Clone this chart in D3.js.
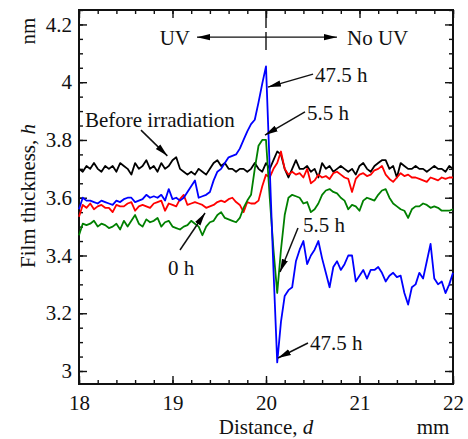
<html>
<head>
<title>Film thickness</title>
<script src="https://d3js.org/d3.v7.min.js"></script>
<style>
  body { margin: 0; background: #fff; }
  text { font-family: "Liberation Serif", "Times New Roman", serif; font-size: 21px; fill: #111; }
</style>
</head>
<body>
<div id="chart"></div>
<script type="text/javascript">
// sampling positions along the film (mm), 0.04 mm apart
var distance = d3.range(101).map(function(i) { return +(18 + i * 0.04).toFixed(2); });

// thickness readings (nm)
var beforeIrr = [3.70,3.69,3.71,3.70,3.72,3.70,3.69,3.71,3.70,3.71,
  3.69,3.72,3.71,3.70,3.68,3.72,3.70,3.71,3.73,3.70,
  3.71,3.69,3.72,3.70,3.71,3.73,3.74,3.70,3.69,3.68,
  3.69,3.68,3.70,3.69,3.68,3.70,3.72,3.73,3.71,3.72,
  3.70,3.70,3.69,3.70,3.70,3.69,3.70,3.72,3.70,3.69,
  3.72,3.70,3.73,3.76,3.75,3.70,3.67,3.70,3.73,3.70,
  3.70,3.71,3.69,3.70,3.67,3.72,3.70,3.71,3.69,3.70,
  3.71,3.70,3.69,3.70,3.68,3.71,3.72,3.70,3.69,3.71,
  3.72,3.73,3.73,3.70,3.71,3.67,3.72,3.71,3.70,3.70,
  3.71,3.70,3.70,3.69,3.70,3.71,3.70,3.70,3.69,3.71,3.70];

var h0 = [3.534,3.575,3.565,3.58,3.56,3.57,3.575,3.565,3.565,3.55,
  3.575,3.57,3.57,3.58,3.585,3.555,3.57,3.575,3.57,3.565,
  3.58,3.585,3.59,3.555,3.58,3.575,3.57,3.595,3.61,3.575,
  3.58,3.585,3.58,3.575,3.565,3.57,3.575,3.585,3.59,3.585,
  3.595,3.60,3.585,3.575,3.55,3.585,3.58,3.58,3.59,3.64,
  3.68,3.67,3.70,3.72,3.76,3.70,3.68,3.69,3.68,3.685,
  3.67,3.70,3.65,3.66,3.68,3.67,3.675,3.665,3.685,3.69,
  3.68,3.67,3.665,3.62,3.665,3.68,3.685,3.675,3.68,3.695,
  3.70,3.71,3.68,3.665,3.655,3.67,3.685,3.675,3.68,3.67,
  3.67,3.665,3.66,3.655,3.67,3.665,3.66,3.67,3.665,3.67,3.67];

var h55 = [3.47,3.51,3.505,3.51,3.52,3.50,3.51,3.505,3.495,3.50,
  3.51,3.49,3.52,3.50,3.52,3.54,3.51,3.50,3.525,3.515,
  3.52,3.53,3.50,3.515,3.52,3.50,3.495,3.49,3.50,3.505,
  3.52,3.51,3.50,3.47,3.50,3.515,3.52,3.54,3.55,3.53,
  3.525,3.52,3.515,3.53,3.565,3.59,3.61,3.70,3.78,3.80,
  3.80,3.60,3.42,3.27,3.42,3.54,3.60,3.61,3.605,3.60,
  3.58,3.585,3.55,3.56,3.58,3.61,3.625,3.63,3.62,3.615,
  3.60,3.59,3.56,3.575,3.57,3.555,3.59,3.60,3.595,3.59,
  3.61,3.625,3.63,3.60,3.58,3.57,3.56,3.555,3.53,3.56,
  3.57,3.57,3.58,3.575,3.565,3.57,3.565,3.555,3.555,3.555,3.56];

var h475 = [3.56,3.60,3.59,3.59,3.585,3.58,3.59,3.585,3.58,3.575,
  3.59,3.585,3.595,3.60,3.60,3.585,3.59,3.595,3.61,3.60,
  3.605,3.60,3.61,3.59,3.63,3.595,3.60,3.59,3.60,3.62,
  3.64,3.66,3.60,3.605,3.61,3.62,3.66,3.69,3.70,3.72,
  3.74,3.745,3.75,3.77,3.80,3.83,3.855,3.87,3.93,3.995,
  4.055,3.70,3.35,3.03,3.17,3.26,3.28,3.29,3.38,3.42,
  3.45,3.37,3.40,3.42,3.45,3.39,3.34,3.29,3.36,3.38,
  3.35,3.37,3.40,3.40,3.31,3.33,3.35,3.32,3.35,3.35,
  3.36,3.34,3.31,3.33,3.34,3.325,3.33,3.27,3.23,3.29,
  3.30,3.34,3.32,3.38,3.44,3.32,3.30,3.31,3.27,3.30,3.34];

var seriesColors = ["#000000", "#ff0000", "#008000", "#0000ff"];

// tick values
var xMajor = [18, 19, 20, 21, 22];
var yMajor = [3, 3.2, 3.4, 3.6, 3.8, 4, 4.2];

// annotation labels, positions in data units (mm, nm)
var labelText = ["Before irradiation", "47.5 h", "5.5 h", "0 h", "5.5 h", "47.5 h"];
var labelPos = [[18.064, 3.845], [20.524, 4.0], [20.439, 3.869], [18.952, 3.332], [20.396, 3.481], [20.471, 3.073]];
var arrowFrom = [[18.663, 3.834], [20.503, 4.028], [20.417, 3.897], [19.08, 3.419], [20.342, 3.495], [20.449, 3.097]];
var arrowTo = [[18.945, 3.745], [20.021, 3.983], [19.989, 3.817], [19.348, 3.547], [20.15, 3.343], [20.128, 3.045]];

var W = 468, H = 439;
var margin = {top: 10, right: 15, bottom: 55, left: 79};
var width = W - margin.left - margin.right;
var height = H - margin.top - margin.bottom;

var x = d3.scaleLinear().domain([18, 22]).range([0, width]);
var y = d3.scaleLinear().domain([2.955, 4.25]).range([height, 0]);

var svg = d3.select("#chart").append("svg")
    .attr("width", W)
    .attr("height", H);

var defs = svg.append("defs");
defs.append("marker")
    .attr("id", "head")
    .attr("markerUnits", "userSpaceOnUse")
    .attr("markerWidth", 14).attr("markerHeight", 8)
    .attr("refX", 13).attr("refY", 4)
    .attr("orient", "auto")
  .append("path")
    .attr("d", "M0,0.8 L13,4 L0,7.2 Z")
    .attr("fill", "#000");

var g = svg.append("g")
    .attr("transform", "translate(" + margin.left + "," + margin.top + ")");

// ticks on all four sides, pointing inwards
function addAxis(axisFn, scale, values, size, labels, tx, ty) {
    var ax = axisFn(scale).tickValues(values).tickSize(-size).tickSizeOuter(0);
    ax.tickFormat(labels ? function(d) { return String(d); } : "");
    var sel = g.append("g").attr("transform", "translate(" + tx + "," + ty + ")").call(ax);
    sel.select(".domain").remove();
    sel.selectAll("line").attr("stroke", "#111").attr("stroke-width", 1.4);
    sel.selectAll("text").attr("font-family", null).attr("font-size", null).attr("fill", "#111");
    return sel;
}
var xMinor = d3.range(18, 22.001, 0.2).map(function(v) { return +v.toFixed(1); });
var yMinor = d3.range(3, 4.251, 0.05).map(function(v) { return +v.toFixed(2); });

addAxis(d3.axisBottom, x, xMinor, 4, false, 0, height);
addAxis(d3.axisBottom, x, xMajor, 8, true, 0, height)
    .call(function(s) { s.selectAll("text").attr("y", 11); });
addAxis(d3.axisTop, x, xMinor, 4, false, 0, 0);
addAxis(d3.axisTop, x, xMajor, 8, false, 0, 0);
addAxis(d3.axisLeft, y, yMinor, 4, false, 0, 0);
addAxis(d3.axisLeft, y, yMajor, 8, true, 0, 0)
    .call(function(s) { s.selectAll("text").attr("x", -7); });
addAxis(d3.axisRight, y, yMinor, 4, false, width, 0);
addAxis(d3.axisRight, y, yMajor, 8, false, width, 0);

// frame
g.append("rect")
    .attr("width", width).attr("height", height)
    .attr("fill", "none").attr("stroke", "#111").attr("stroke-width", 2);

// data lines
var line = d3.line()
    .x(function(d) { return x(d[0]); })
    .y(function(d) { return y(d[1]); });

[beforeIrr, h0, h55, h475].forEach(function(vals, k) {
    g.append("path")
        .datum(distance.map(function(d, i) { return [d, vals[i]]; }))
        .attr("fill", "none")
        .attr("stroke", seriesColors[k])
        .attr("stroke-width", 1.8)
        .attr("stroke-linejoin", "round")
        .attr("d", line);
});

// UV / No UV marker at 20 mm
g.append("line")
    .attr("x1", x(20)).attr("x2", x(20))
    .attr("y1", y(4.25)).attr("y2", y(4.104))
    .attr("stroke", "#111").attr("stroke-width", 1.4)
    .attr("stroke-dasharray", "18,4");
g.append("line")
    .attr("x1", x(20)).attr("x2", x(19.262))
    .attr("y1", y(4.156)).attr("y2", y(4.156))
    .attr("stroke", "#111").attr("stroke-width", 1.4)
    .attr("marker-end", "url(#head)");
g.append("line")
    .attr("x1", x(20)).attr("x2", x(20.759))
    .attr("y1", y(4.156)).attr("y2", y(4.156))
    .attr("stroke", "#111").attr("stroke-width", 1.4)
    .attr("marker-end", "url(#head)");
g.append("text").attr("x", x(19.187)).attr("y", y(4.128))
    .attr("text-anchor", "end").text("UV");
g.append("text").attr("x", x(20.866)).attr("y", y(4.128))
    .text("No UV");

// curve labels with arrows
labelText.forEach(function(t, i) {
    g.append("line")
        .attr("x1", x(arrowFrom[i][0])).attr("y1", y(arrowFrom[i][1]))
        .attr("x2", x(arrowTo[i][0])).attr("y2", y(arrowTo[i][1]))
        .attr("stroke", "#111").attr("stroke-width", 1.5)
        .attr("marker-end", "url(#head)");
    g.append("text")
        .attr("x", x(labelPos[i][0])).attr("y", y(labelPos[i][1]))
        .text(t);
});

// axis titles
var yt = svg.append("text")
    .attr("transform", "translate(35," + 196 + ") rotate(-90)")
    .attr("text-anchor", "middle");
yt.append("tspan").text("Film thickness, ");
yt.append("tspan").attr("font-style", "italic").text("h");

svg.append("text")
    .attr("transform", "translate(35,31) rotate(-90)")
    .attr("text-anchor", "middle")
    .text("nm");

var xt = svg.append("text")
    .attr("x", margin.left + x(20)).attr("y", 434)
    .attr("text-anchor", "middle");
xt.append("tspan").text("Distance, ");
xt.append("tspan").attr("font-style", "italic").text("d");

svg.append("text")
    .attr("x", 433).attr("y", 434)
    .attr("text-anchor", "middle")
    .text("mm");
</script>
</body>
</html>
